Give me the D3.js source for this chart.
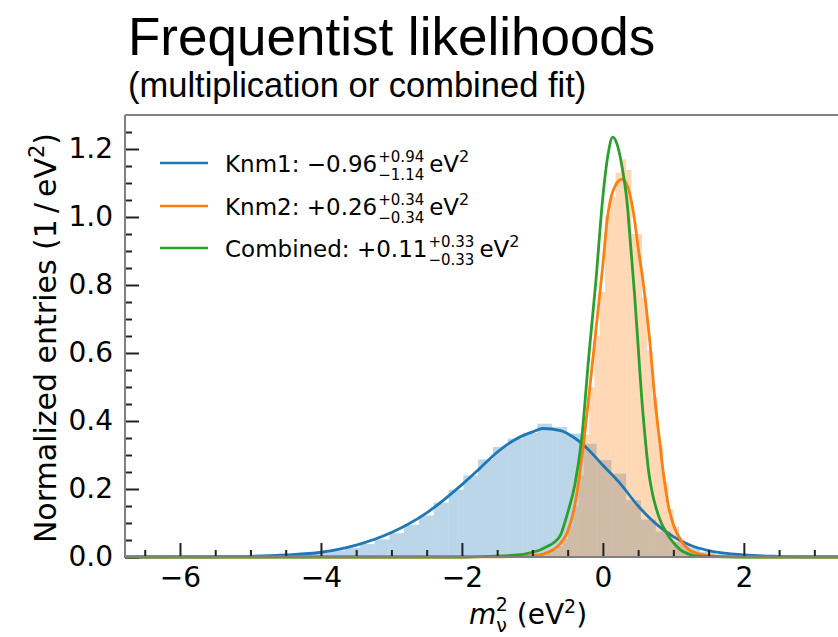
<!DOCTYPE html>
<html><head><meta charset="utf-8">
<script src="https://cdn.jsdelivr.net/npm/d3@7"></script>
<style>
html,body{margin:0;padding:0;background:#fff;}
svg{display:block;}
</style></head>
<body>
<svg id="chart" width="838" height="637"></svg>
<script>
// ---------- data ----------
const titleText = "Frequentist likelihoods";
const subtitleText = "(multiplication or combined fit)";

const xMajorTicks = [-6, -4, -2, 0, 2];
const xMinorTicks = [-6.5,-5.5,-5,-4.5,-3.5,-3,-2.5,-1.5,-1,-0.5,0.5,1,1.5,2.5,3,3.5];
const yMajorTicks = [0, 0.2, 0.4, 0.6, 0.8, 1.0, 1.2];
const yMinorTicks = [0.05,0.1,0.15,0.25,0.3,0.35,0.45,0.5,0.55,0.65,0.7,0.75,0.85,0.9,0.95,1.05,1.1,1.15,1.25];

// Knm1 histogram (blue)
const knm1BinEdges = [-5.13,-4.92,-4.71,-4.50,-4.29,-4.08,-3.87,-3.66,-3.45,-3.24,-3.03,-2.82,-2.61,-2.40,-2.19,-1.98,-1.77,-1.56,-1.35,-1.14,-0.93,-0.72,-0.51,-0.30,-0.09,0.12,0.33,0.54,0.75,0.96,1.17,1.38,1.59,1.80,2.01];
const knm1Counts = [0.002,0.003,0.005,0.007,0.009,0.013,0.019,0.027,0.038,0.052,0.07,0.095,0.122,0.16,0.198,0.24,0.287,0.324,0.348,0.365,0.392,0.382,0.363,0.333,0.285,0.245,0.167,0.11,0.075,0.045,0.028,0.015,0.008,0.004];

// Knm2 histogram (orange)
const knm2BinEdges = [-1.02,-0.945,-0.87,-0.795,-0.72,-0.645,-0.57,-0.495,-0.42,-0.345,-0.27,-0.195,-0.12,-0.045,0.03,0.105,0.18,0.255,0.33,0.405,0.48,0.555,0.63,0.705,0.78,0.855,0.93,1.005,1.08,1.155,1.23,1.305,1.38,1.455,1.53];
const knm2Counts = [0.002,0.004,0.007,0.012,0.02,0.032,0.052,0.09,0.15,0.24,0.36,0.50,0.65,0.78,1.003,1.059,1.13,1.17,1.138,0.95,0.95,0.764,0.607,0.47,0.33,0.22,0.14,0.09,0.055,0.035,0.02,0.012,0.006,0.003];

// likelihood curves
const knm1CurveX = [-6.8,-6,-5.5,-5,-4.5,-4,-3.5,-3,-2.5,-2,-1.75,-1.5,-1.25,-1,-0.85,-0.6,-0.4,-0.2,0,0.25,0.5,0.75,1,1.25,1.5,2,2.5,3,3.5,4.6];
const knm1CurveY = [0,0.0002,0.0008,0.002,0.006,0.014,0.035,0.072,0.13,0.213,0.26,0.308,0.345,0.368,0.378,0.372,0.35,0.315,0.27,0.215,0.15,0.098,0.06,0.034,0.019,0.006,0.002,0.0005,0.0001,0];

const knm2CurveX = [-6.8,-2,-1.5,-1.2,-1,-0.9,-0.8,-0.7,-0.6,-0.5,-0.4,-0.3,-0.2,-0.1,0,0.06,0.15,0.27,0.35,0.45,0.5,0.57,0.66,0.74,0.8,0.85,0.93,1.0,1.07,1.2,1.35,1.5,1.7,2,4.6];
const knm2CurveY = [0,0,0.0005,0.002,0.004,0.006,0.012,0.022,0.04,0.075,0.15,0.29,0.47,0.665,0.86,0.99,1.08,1.111,1.09,0.99,0.91,0.81,0.646,0.46,0.35,0.26,0.15,0.095,0.062,0.025,0.01,0.004,0.001,0,0];

const combCurveX = [-6.8,-2,-1.6,-1.2,-1,-0.9,-0.8,-0.7,-0.6,-0.5,-0.4,-0.3,-0.2,-0.1,0,0.07,0.14,0.2,0.27,0.34,0.4,0.45,0.5,0.55,0.6,0.65,0.7,0.8,0.9,1.0,1.1,1.2,1.3,1.5,2,4.6];
const combCurveY = [0,0,0.002,0.006,0.014,0.02,0.03,0.042,0.065,0.13,0.21,0.35,0.59,0.81,1.06,1.18,1.235,1.215,1.15,1.05,0.9,0.77,0.62,0.47,0.35,0.25,0.19,0.115,0.072,0.042,0.021,0.01,0.004,0.001,0,0];

const legendNames = ["Knm1: \u22120.96", "Knm2: +0.26", "Combined: +0.11"];
const legendUp = ["+0.94", "+0.34", "+0.33"];
const legendDown = ["\u22121.14", "\u22120.34", "\u22120.33"];
const seriesColors = ["#1f77b4", "#ff7f0e", "#2ca02c"];

// ---------- layout ----------
const svg = d3.select("#chart");
const L = 125, R = 925, T = 115, B = 557;
const x = d3.scaleLinear().domain([-6.78, 4.57]).range([L, R]);
const y = d3.scaleLinear().domain([0, 1.3]).range([B, T]);
const fontChart = "'DejaVu Sans', sans-serif";

// titles
svg.append("text").attr("x", 128).attr("y", 55)
  .attr("font-family", "'Liberation Sans', Arial, sans-serif").attr("font-size", 53)
  .attr("fill", "#000").text(titleText);
svg.append("text").attr("x", 128).attr("y", 97)
  .attr("font-family", "'Liberation Sans', Arial, sans-serif").attr("font-size", 34.5)
  .attr("fill", "#000").text(subtitleText);

svg.append("clipPath").attr("id", "plotclip").append("rect")
  .attr("x", L).attr("y", T - 2).attr("width", R - L).attr("height", B - T + 4);

const plot = svg.append("g").attr("clip-path", "url(#plotclip)");

function bars(edges, counts, color) {
  plot.append("g").selectAll("rect").data(counts).join("rect")
    .attr("x", (d, i) => x(edges[i]))
    .attr("width", (d, i) => x(edges[i + 1]) - x(edges[i]))
    .attr("y", d => y(d))
    .attr("height", d => y(0) - y(d))
    .attr("fill", color).attr("fill-opacity", 0.3);
}
bars(knm1BinEdges, knm1Counts, seriesColors[0]);
bars(knm2BinEdges, knm2Counts, seriesColors[1]);

const line = d3.line().x(d => x(d[0])).y(d => y(d[1])).curve(d3.curveMonotoneX);
[[knm1CurveX, knm1CurveY], [knm2CurveX, knm2CurveY], [combCurveX, combCurveY]].forEach((c, i) => {
  plot.append("path").datum(c[0].map((v, j) => [v, c[1][j]]))
    .attr("d", line).attr("fill", "none").attr("stroke", seriesColors[i])
    .attr("stroke-width", 2.8).attr("stroke-linejoin", "round");
});

// axes (ticks pointing inward)
function styleAxis(g) {
  g.select(".domain").remove();
  g.selectAll(".tick line").attr("stroke", "#222").attr("stroke-width", 2);
  g.selectAll(".tick text").attr("font-family", fontChart).attr("font-size", 28).attr("fill", "#000");
}
svg.append("g").attr("transform", `translate(0,${B})`)
  .call(d3.axisBottom(x).tickValues(xMinorTicks).tickSize(-7).tickFormat(""))
  .call(styleAxis);
svg.append("g").attr("transform", `translate(0,${B})`)
  .call(d3.axisBottom(x).tickValues(xMajorTicks).tickSize(-14).tickPadding(10).tickFormat(d3.format("d")))
  .call(styleAxis);
svg.append("g").attr("transform", `translate(${L},0)`)
  .call(d3.axisLeft(y).tickValues(yMinorTicks).tickSize(-7).tickFormat(""))
  .call(styleAxis);
svg.append("g").attr("transform", `translate(${L},0)`)
  .call(d3.axisLeft(y).tickValues(yMajorTicks).tickSize(-14).tickPadding(12).tickFormat(d3.format(".1f")))
  .call(styleAxis);

// spines
const spine = svg.append("g").attr("stroke", "#808080").attr("stroke-width", 2).attr("fill", "none");
spine.append("path").attr("d", `M${L},${T}V${B}H${R}`);
spine.append("path").attr("d", `M${L},${T}H${R}`);

// axis labels
const xl = svg.append("text").attr("x", (L + R) / 2 + 3).attr("y", 624).attr("text-anchor", "middle")
  .attr("font-family", fontChart).attr("font-size", 28).attr("fill", "#000");
xl.append("tspan").attr("font-style", "italic").text("m");
xl.append("tspan").attr("font-size", 19).attr("dy", 8).text("\u03bd");
xl.append("tspan").attr("font-size", 19).attr("dx", -11).attr("dy", -21).text("2");
xl.append("tspan").attr("dy", 13).text(" (eV");
xl.append("tspan").attr("font-size", 19).attr("dy", -11).text("2");
xl.append("tspan").attr("dy", 11).text(")");

const yl = svg.append("text").attr("transform", `translate(56,${(T + B) / 2 + 2}) rotate(-90)`)
  .attr("text-anchor", "middle").attr("font-family", fontChart).attr("font-size", 30).attr("fill", "#000");
yl.append("tspan").text("Normalized entries (1\u2009/\u2009eV");
yl.append("tspan").attr("font-size", 21).attr("dy", -12).text("2");
yl.append("tspan").attr("dy", 12).text(")");

// legend
const legY = [163, 206, 248];
legendNames.forEach((name, i) => {
  const g = svg.append("g");
  g.append("line").attr("x1", 160).attr("x2", 208).attr("y1", legY[i]).attr("y2", legY[i])
    .attr("stroke", seriesColors[i]).attr("stroke-width", 2.5);
  const base = legY[i] + 9;
  const t = g.append("text").attr("x", 225).attr("y", base)
    .attr("font-family", fontChart).attr("font-size", 23).attr("fill", "#000");
  const nm = t.append("tspan").text(name);
  const w = nm.node().getComputedTextLength();
  const sx = 225 + w + 1;
  const up = t.append("tspan").attr("x", sx).attr("y", base - 10.5).attr("font-size", 15).text(legendUp[i]);
  const dn = t.append("tspan").attr("x", sx).attr("y", base + 7.5).attr("font-size", 15).text(legendDown[i]);
  const sw = Math.max(up.node().getComputedTextLength(), dn.node().getComputedTextLength());
  t.append("tspan").attr("x", sx + sw + 5).attr("y", base).text("eV");
  t.append("tspan").attr("font-size", 16).attr("dy", -10).text("2");
});
</script>
</body></html>
